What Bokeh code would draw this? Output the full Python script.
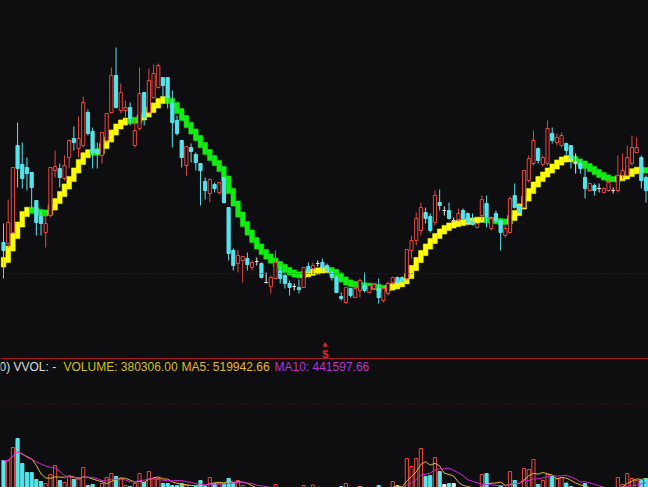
import numpy as np
import pandas as pd
from bokeh.plotting import figure
from bokeh.models import Range1d, Span, Label
from bokeh.embed import file_html
from bokeh.resources import INLINE
from bokeh.core.properties import value

# ---------------- data ----------------
opens = [7.58, 7.57, 7.68, 8.55, 8.36, 8.33, 8.28, 8.00, 7.84, 7.68,
         7.85, 8.30, 8.32, 8.22, 8.43, 8.62, 8.52, 8.55, 8.88, 8.69,
         8.51, 8.45, 8.60, 8.88, 9.25, 8.90, 8.90, 8.93, 8.55, 8.72,
         9.08, 8.88, 9.03, 9.13, 9.23, 9.23, 8.97, 8.80, 8.60, 8.35,
         8.53, 8.46, 8.37, 8.19, 8.07, 8.16, 8.08, 8.23, 7.93, 7.50,
         7.37, 7.40, 7.42, 7.33, 7.39, 7.37, 7.18, 7.14, 7.22, 7.30,
         7.25, 7.17, 7.14, 7.13, 7.13, 7.34, 7.32, 7.37, 7.38, 7.35,
         7.28, 7.23, 7.04, 6.98, 7.12, 7.03, 7.10, 7.15, 7.08, 7.12,
         7.12, 7.00, 7.07, 7.18, 7.23, 7.23, 7.22, 7.50, 7.60, 7.70,
         7.88, 7.84, 7.78, 7.98, 7.90, 7.90, 7.80, 7.81, 7.90, 7.87,
         7.79, 7.73, 7.85, 7.97, 7.72, 7.87, 7.80, 7.65, 7.68, 8.05,
         7.95, 7.93, 8.20, 8.37, 8.52, 8.36, 8.37, 8.67, 8.58, 8.55,
         8.57, 8.55, 8.38, 8.37, 8.23, 8.10, 8.15, 8.12, 8.08, 8.10,
         8.10, 8.10, 8.25, 8.25, 8.37, 8.48, 8.43, 8.23]
highs = [7.77, 8.01, 8.33, 8.78, 8.58, 8.43, 8.28, 8.00, 7.90, 7.87,
         8.33, 8.50, 8.37, 8.45, 8.61, 8.74, 8.84, 9.04, 8.91, 8.73,
         8.58, 8.68, 8.87, 9.33, 9.53, 9.17, 9.00, 8.98, 8.80, 9.33,
         9.08, 9.32, 9.36, 9.37, 9.23, 9.23, 9.10, 8.85, 8.60, 8.54,
         8.57, 8.48, 8.37, 8.23, 8.22, 8.18, 8.18, 8.23, 7.93, 7.52,
         7.51, 7.44, 7.48, 7.40, 7.43, 7.38, 7.28, 7.25, 7.50, 7.33,
         7.27, 7.20, 7.17, 7.21, 7.33, 7.38, 7.38, 7.40, 7.42, 7.37,
         7.30, 7.25, 7.08, 7.13, 7.12, 7.17, 7.22, 7.28, 7.15, 7.17,
         7.22, 7.12, 7.19, 7.24, 7.24, 7.24, 7.51, 7.65, 7.88, 7.98,
         7.93, 7.87, 8.10, 8.11, 7.94, 7.98, 7.83, 7.92, 7.92, 7.88,
         7.87, 7.78, 8.05, 8.05, 7.84, 7.90, 7.80, 7.74, 8.04, 8.17,
         7.97, 8.30, 8.45, 8.70, 8.53, 8.45, 8.80, 8.73, 8.67, 8.68,
         8.58, 8.55, 8.47, 8.40, 8.32, 8.18, 8.17, 8.17, 8.13, 8.20,
         8.13, 8.45, 8.47, 8.55, 8.65, 8.63, 8.45, 8.25]
lows = [7.22, 7.53, 7.68, 8.13, 8.12, 8.10, 7.92, 7.65, 7.65, 7.53,
        7.83, 8.23, 8.13, 8.20, 8.32, 8.50, 8.43, 8.53, 8.65, 8.32,
        8.32, 8.37, 8.58, 8.87, 8.92, 8.87, 8.82, 8.75, 8.53, 8.70,
        8.75, 8.87, 9.02, 9.12, 9.03, 8.92, 8.53, 8.65, 8.33, 8.25,
        8.38, 8.30, 7.95, 8.01, 7.98, 8.08, 8.06, 7.97, 7.40, 7.30,
        7.28, 7.18, 7.30, 7.30, 7.35, 7.22, 7.17, 7.07, 7.22, 7.17,
        7.12, 7.05, 7.10, 7.07, 7.13, 7.27, 7.27, 7.34, 7.30, 7.27,
        7.20, 7.08, 7.00, 6.97, 7.03, 7.03, 7.03, 7.08, 7.07, 7.11,
        6.97, 6.98, 7.05, 7.16, 7.17, 7.18, 7.20, 7.42, 7.55, 7.65,
        7.77, 7.68, 7.75, 7.90, 7.85, 7.81, 7.76, 7.79, 7.81, 7.77,
        7.75, 7.72, 7.80, 7.73, 7.70, 7.78, 7.50, 7.63, 7.67, 7.92,
        7.87, 7.92, 8.18, 8.35, 8.37, 8.34, 8.35, 8.57, 8.55, 8.53,
        8.45, 8.32, 8.27, 8.27, 8.02, 8.09, 8.05, 8.08, 8.07, 8.09,
        8.07, 8.08, 8.22, 8.24, 8.35, 8.47, 8.12, 7.98]
closes = [7.50, 7.78, 8.33, 8.32, 8.22, 8.27, 8.13, 7.78, 7.77, 7.77,
          8.33, 8.34, 8.23, 8.35, 8.60, 8.58, 8.62, 8.98, 8.67, 8.48,
          8.47, 8.68, 8.87, 9.25, 8.93, 9.08, 8.93, 8.82, 8.70, 9.07,
          8.83, 9.20, 9.27, 9.35, 9.15, 9.03, 8.78, 8.67, 8.43, 8.54,
          8.49, 8.38, 8.30, 8.10, 8.21, 8.12, 8.18, 7.98, 7.47, 7.35,
          7.45, 7.44, 7.36, 7.38, 7.39, 7.23, 7.18, 7.23, 7.38, 7.22,
          7.17, 7.13, 7.14, 7.11, 7.33, 7.29, 7.35, 7.37, 7.33, 7.30,
          7.23, 7.08, 7.02, 7.13, 7.05, 7.12, 7.20, 7.10, 7.15, 7.16,
          7.03, 7.12, 7.17, 7.23, 7.18, 7.19, 7.51, 7.60, 7.82, 7.93,
          7.82, 7.70, 8.05, 7.95, 7.90, 7.82, 7.80, 7.87, 7.82, 7.78,
          7.76, 7.77, 8.01, 7.84, 7.82, 7.80, 7.68, 7.72, 8.02, 7.93,
          7.88, 8.30, 8.42, 8.60, 8.40, 8.43, 8.72, 8.60, 8.63, 8.65,
          8.50, 8.42, 8.38, 8.32, 8.12, 8.17, 8.10, 8.12, 8.12, 8.18,
          8.10, 8.25, 8.30, 8.43, 8.53, 8.53, 8.20, 8.10]
# thick trend line
trend = [7.360, 7.450, 7.590, 7.700, 7.820, 7.910, 7.905, 7.890, 7.880, 7.860,
         7.900, 7.960, 8.030, 8.100, 8.180, 8.250, 8.350, 8.420, 8.485, 8.480,
         8.475, 8.510, 8.580, 8.640, 8.720, 8.760, 8.800, 8.797, 8.794, 8.820,
         8.840, 8.880, 8.930, 8.970, 9.020, 9.010, 8.980, 8.930, 8.860, 8.790,
         8.720, 8.660, 8.590, 8.520, 8.450, 8.400, 8.350, 8.280, 8.160, 8.030,
         7.910, 7.810, 7.720, 7.640, 7.570, 7.510, 7.460, 7.420, 7.380, 7.350,
         7.320, 7.290, 7.270, 7.250, 7.255, 7.270, 7.285, 7.295, 7.305, 7.310,
         7.300, 7.270, 7.230, 7.190, 7.170, 7.160, 7.155, 7.150, 7.145, 7.140,
         7.130, 7.120, 7.125, 7.135, 7.150, 7.175, 7.210, 7.280, 7.370, 7.440,
         7.510, 7.570, 7.620, 7.670, 7.710, 7.740, 7.760, 7.770, 7.780, 7.790,
         7.795, 7.805, 7.810, 7.807, 7.802, 7.797, 7.790, 7.780, 7.800, 7.850,
         7.900, 7.980, 8.060, 8.130, 8.190, 8.240, 8.280, 8.320, 8.360, 8.400,
         8.420, 8.425, 8.400, 8.380, 8.360, 8.330, 8.300, 8.270, 8.240, 8.220,
         8.210, 8.215, 8.230, 8.250, 8.280, 8.305, 8.310, 8.300]
volumes = [1600000, 1600000, 2120000, 2480000, 1480000, 1120000, 1120000, 840000, 760000, 680000,
           1040000, 1400000, 800000, 720000, 960000, 840000, 920000, 1320000, 600000, 640000,
           520000, 680000, 920000, 1080000, 960000, 880000, 600000, 560000, 680000, 1080000,
           720000, 1160000, 880000, 880000, 680000, 680000, 600000, 600000, 680000, 600000,
           520000, 560000, 800000, 560000, 920000, 680000, 680000, 680000, 880000, 720000,
           800000, 600000, 440000, 380000, 300000, 420000, 350000, 400000, 640000, 360000,
           330000, 310000, 400000, 415000, 600000, 500000, 620000, 500000, 380306, 320000,
           360000, 450000, 560000, 680000, 420000, 480000, 560000, 450000, 400000, 350000,
           600000, 480000, 450000, 760000, 600000, 420000, 1680000, 1360000, 1680000, 2080000,
           960000, 1000000, 1720000, 1160000, 640000, 680000, 680000, 520000, 480000, 450000,
           420000, 400000, 1040000, 1080000, 520000, 450000, 600000, 400000, 1160000, 800000,
           480000, 1280000, 1240000, 1640000, 640000, 800000, 1040000, 960000, 880000, 920000,
           700000, 560000, 450000, 500000, 680000, 400000, 420000, 350000, 380000, 420000,
           360000, 920000, 640000, 1080000, 880000, 800000, 800000, 880000]
header_texts = ["0) VVOL: -", "VOLUME: 380306.00", "MA5: 519942.66", "MA10: 441597.66"]
cursor_x = 68.6
cursor_price = 6.47

# ---------------- styling ----------------
BG = "#0e0e11"
UP = "#e8453f"
DOWN = "#56e4ec"
FLAT = "#e8e8e8"
RISE = "#ffff00"
FALL = "#12ee12"

n = len(opens)
idx = np.arange(n)
o = np.array(opens)
c = np.array(closes)
line_cols = [UP if cc > oo else (DOWN if cc < oo else FLAT) for oo, cc in zip(o, c)]
fill_cols = [BG if cc > oo else (DOWN if cc < oo else FLAT) for oo, cc in zip(o, c)]

p = figure(width=648, height=487, x_range=Range1d(-0.64, 137.53), y_range=Range1d(5.13, 10.0),
           output_backend="svg", toolbar_location=None, min_border=0,
           x_axis_location=None, y_axis_location=None,
           background_fill_color=BG, border_fill_color=BG, outline_line_color=None)
p.grid.visible = False
p.extra_y_ranges = {"vol": Range1d(520000, 20000000)}

# faint grid lines and panel separator
p.add_layout(Span(location=7.27, dimension="width", line_color="#4a1616", line_width=1, line_dash="1 2"))
p.add_layout(Span(location=3840000, dimension="width", y_range_name="vol", line_color="#4a1616",
                  line_width=1, line_dash="1 2"))
p.add_layout(Span(location=6.42, dimension="width", line_color="#a81c1c", line_width=1))

# thick trend line, stair-stepped, yellow rising / green falling
tr = np.array(trend)
mid_prev = np.concatenate([[tr[0]], (tr[:-1] + tr[1:]) / 2])
mid_next = np.concatenate([(tr[:-1] + tr[1:]) / 2, [tr[-1]]])
lo = np.minimum(mid_prev, mid_next) - 0.026
hi = np.maximum(mid_prev, mid_next) + 0.026
tcol = [RISE if (i == 0 or tr[i] >= tr[i - 1]) else FALL for i in range(n)]
p.quad(left=idx - 0.5, right=idx + 0.5, bottom=lo, top=hi, fill_color=tcol, line_color=tcol, line_width=0.5)

# candles
p.segment(x0=idx, y0=lows, x1=idx, y1=highs, line_color=line_cols, line_width=1)
p.quad(left=idx - 0.34, right=idx + 0.34, bottom=np.minimum(o, c), top=np.maximum(o, c),
       fill_color=fill_cols, line_color=line_cols, line_width=1)

# volume bars
vol = np.array(volumes, dtype=float)
p.quad(left=idx - 0.34, right=idx + 0.34, bottom=0, top=vol, y_range_name="vol",
       fill_color=fill_cols, line_color=line_cols, line_width=1)
ma5 = pd.Series(vol).rolling(5, min_periods=1).mean().values
ma10 = pd.Series(vol).rolling(10, min_periods=1).mean().values
p.line(idx, ma5, y_range_name="vol", line_color="#e0bc2a", line_width=1)
p.line(idx, ma10, y_range_name="vol", line_color="#d424d4", line_width=1)

# cursor marker
p.scatter(x=[cursor_x], y=[cursor_price + 0.085], marker="triangle", size=4, color="#e02222")
p.text(x=[cursor_x], y=[cursor_price], text=["$"], text_color="#e02222", text_font_size="11px",
       text_align="center", text_baseline="middle", text_font=value("Liberation Sans"),
       text_font_style="bold")

# header of volume panel
hx = [-1, 63, 181, 274]
hc = ["#dcdcdc", "#cfbf22", "#e0b82a", "#bb33cc"]
for t, x, col in zip(header_texts, hx, hc):
    p.add_layout(Label(x=x, y=121, x_units="screen", y_units="screen", text=t, text_color=col,
                       text_font_size="12px", text_baseline="middle", text_font="Liberation Sans"))

template = "{% block postamble %}<style>html,body{margin:0;padding:0;background:#0e0e11;overflow:hidden;}</style>{% endblock %}"
open("out.html", "w").write(file_html(p, INLINE, template=template))
